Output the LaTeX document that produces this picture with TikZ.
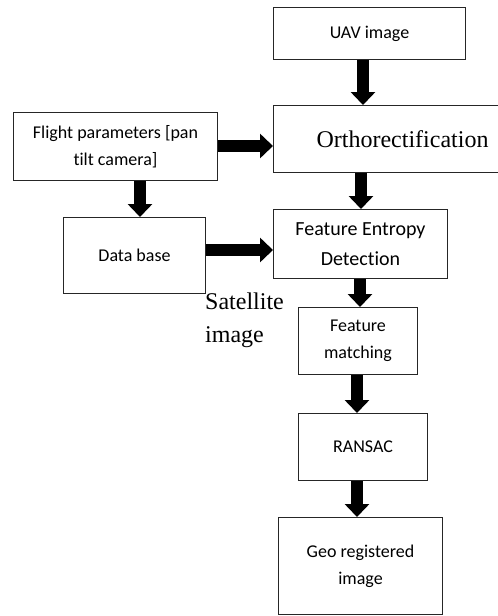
\documentclass[tikz,border=0pt]{standalone}
\usepackage{fontspec}
\setmainfont{Carlito}[Ligatures=NoCommon]
\newfontfamily\serifface{Liberation Serif}
\usetikzlibrary{arrows.meta}
\begin{document}
\begin{tikzpicture}[x=1pt,y=-1pt,
  box/.style={draw=black!85, line width=1pt, anchor=north west, align=center,
    inner sep=0pt, text=black, font=\fontsize{18}{27}\selectfont},
  flow/.style={line width=12pt, black, -{Triangle[width=24pt,length=13pt]}}
]
\useasboundingbox (0,0) rectangle (498,616);
\clip (0,0) rectangle (498,616);

% process boxes
\node[box, minimum width=192, minimum height=52] (uav) at (273,7) {UAV image};
\node[box, minimum width=258, minimum height=67,
      font=\serifface\fontsize{24}{30}\selectfont] (ortho) at (273,105) {Orthorectification};
\node[box, minimum width=204, minimum height=68] (flight) at (13,112)
      {Flight parameters [pan\\tilt camera]};
\node[box, minimum width=142, minimum height=76] (data) at (63,217) {Data base};
\node[box, minimum width=174, minimum height=69,
      font=\fontsize{20}{30}\selectfont] (fed) at (273,209) {Feature Entropy\\Detection};
\node[box, minimum width=119, minimum height=67] (fm) at (298,307) {Feature\\matching};
\node[box, minimum width=129, minimum height=67] (ransac) at (298,413) {RANSAC};
\node[box, minimum width=164, minimum height=97] (geo) at (278,517) {Geo registered\\image};

% label for the database input
\node[anchor=north west, inner sep=0pt, align=left, text=black,
      font=\serifface\fontsize{24}{33}\selectfont] (sat) at (205,293) {Satellite\\image};

% connector guide lines
\coordinate (colA) at (363,0);
\coordinate (colB) at (361,0);
\coordinate (colC) at (360,0);
\coordinate (colD) at (357,0);
\coordinate (colE) at (140,0);
\coordinate (rowA) at (0,146);
\coordinate (rowB) at (0,250);

% connectors
\draw[flow] (uav.south -| colA) -- (ortho.north -| colA);
\draw[flow] (ortho.south -| colB) -- (fed.north -| colB);
\draw[flow] (fed.south -| colC) -- (fm.north -| colC);
\draw[flow] (fm.south -| colD) -- (ransac.north -| colD);
\draw[flow] (ransac.south -| colD) -- (geo.north -| colD);
\draw[flow] (flight.east |- rowA) -- (ortho.west |- rowA);
\draw[flow] (flight.south -| colE) -- (data.north -| colE);
\draw[flow] (data.east |- rowB) -- (fed.west |- rowB);
\end{tikzpicture}
\end{document}
